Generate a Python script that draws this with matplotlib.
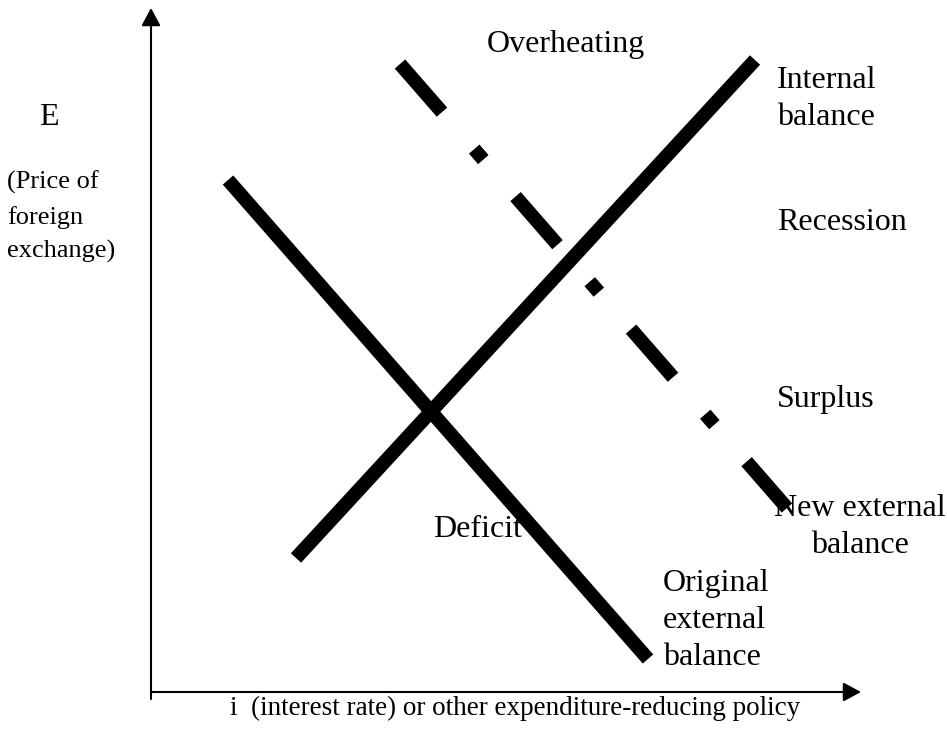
#!/usr/bin/env python3
"""
Internal / external balance diagram (Swan-style) with a shifted external balance line.
"""

import matplotlib
matplotlib.use("Agg")
import matplotlib.pyplot as plt

# Line endpoints in diagram units (origin at the axes corner, y upward)
internal_x = [145, 604]
internal_y = [134, 632]
orig_ext_x = [77, 497]
orig_ext_y = [512, 33]
new_ext_x = [249, 636]
new_ext_y = [628, 184]

X_LABEL = "i  (interest rate) or other expenditure-reducing policy"
Y_LABEL = "E"
Y_NOTE = "(Price of\nforeign\nexchange)"

plt.rcParams["font.family"] = ["Liberation Serif", "DejaVu Serif"]
plt.rcParams["lines.scale_dashes"] = False

fig = plt.figure(figsize=(9.47, 7.29), dpi=100)
ax = fig.add_axes([0, 0, 1, 1])
ax.set_xlim(-151, 796)
ax.set_ylim(-37, 692)
ax.axis("off")

LW = 10

ax.plot(internal_x, internal_y, color="black", lw=LW, solid_capstyle="butt")
ax.plot(orig_ext_x, orig_ext_y, color="black", lw=LW, solid_capstyle="butt")
ax.plot(new_ext_x, new_ext_y, color="black", lw=LW,
        linestyle=(0, (46, 35.3, 10, 35.3)), dash_capstyle="butt")

# axes with arrow heads
arrow = dict(arrowstyle="-|>,head_length=1.08,head_width=0.58", lw=1.5,
             color="black", mutation_scale=10, shrinkA=0, shrinkB=0)
ax.annotate("", xy=(0, 684), xytext=(0, -7), arrowprops=arrow)
ax.annotate("", xy=(710, 0), xytext=(0, 0), arrowprops=arrow)

# multi-line labels: va="baseline" anchors the last line here
big = 23
ax.text(-112, 567, Y_LABEL, fontsize=big, va="baseline", ha="left")
ax.text(-144, 434, Y_NOTE, fontsize=19, va="baseline", ha="left", linespacing=1.65)
ax.text(79, -23, X_LABEL, fontsize=19.5, va="baseline", ha="left")

ax.text(336, 640, "Overheating", fontsize=big, va="baseline", ha="left")
ax.text(626, 567, "Internal\nbalance", fontsize=big, va="baseline", ha="left",
        linespacing=1.37)
ax.text(626, 462, "Recession", fontsize=big, va="baseline", ha="left")
ax.text(626, 285, "Surplus", fontsize=big, va="baseline", ha="left")
ax.text(709, 139, "New external\nbalance", fontsize=big, va="baseline", ha="center",
        linespacing=1.37)
ax.text(282, 155, "Deficit", fontsize=big, va="baseline", ha="left")
ax.text(512, 27, "Original\nexternal\nbalance", fontsize=big, va="baseline", ha="left",
        linespacing=1.37)

fig.savefig("out.png", dpi=100)
